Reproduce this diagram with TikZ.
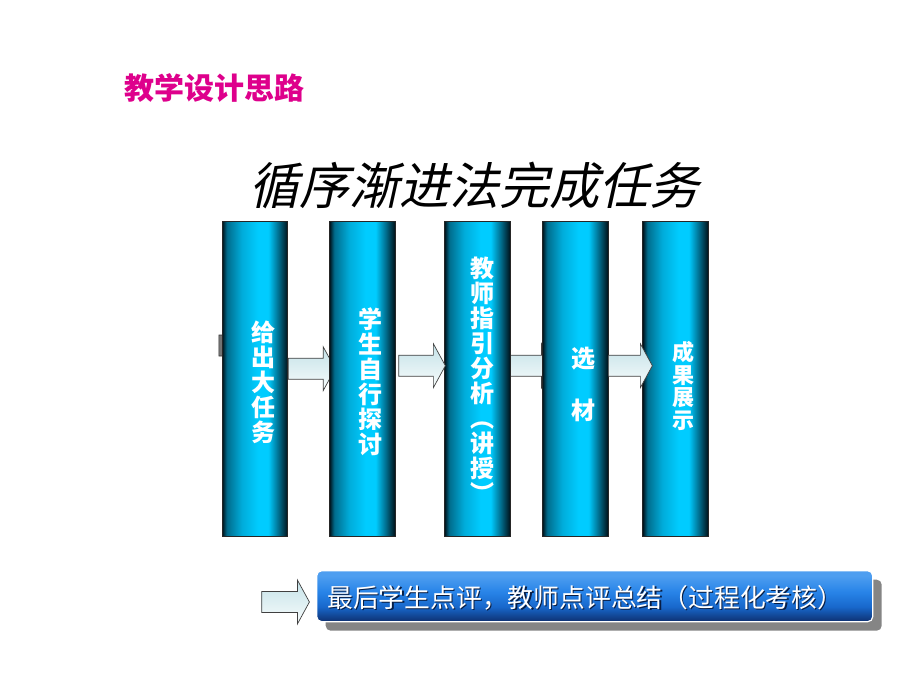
\documentclass[tikz,border=0pt]{standalone}
\usepackage{fontspec}
\usepackage{xcolor}
\usepackage{tikz}
\usetikzlibrary{calc,backgrounds,shadows}

\newfontfamily\cjk{Noto Sans CJK SC}
\newfontfamily\cjkslant[FakeSlant=0.22]{Noto Sans CJK SC}

\definecolor{titlemag}{RGB}{222,0,140}
\definecolor{coldark}{RGB}{0,18,26}
\definecolor{colmid}{RGB}{0,108,140}
\definecolor{colsoft}{RGB}{0,172,218}
\definecolor{colbright}{RGB}{0,204,255}
\definecolor{arrowhigh}{RGB}{196,226,232}
\definecolor{arrowlow}{RGB}{248,252,252}
\definecolor{boxtop}{RGB}{78,158,240}
\definecolor{boxbright}{RGB}{40,132,232}
\definecolor{boxmid}{RGB}{24,104,204}
\definecolor{boxdark}{RGB}{14,48,112}

% shadings at their real size
\pgfdeclarehorizontalshading{columnshade}{315pt}{color(0pt)=(coldark); color(4.6pt)=(colmid);
  color(19.6pt)=(colsoft); color(36pt)=(colbright); color(46pt)=(colbright);
  color(56.3pt)=(colmid); color(65.5pt)=(coldark)}
\pgfdeclareverticalshading{arrowshade}{100bp}{color(0bp)=(arrowlow); color(25bp)=(arrowlow);
  color(75bp)=(arrowhigh); color(100bp)=(arrowhigh)}
\pgfdeclareverticalshading{boxshade}{556pt}{color(0pt)=(boxdark); color(15pt)=(boxmid);
  color(30pt)=(boxbright); color(46pt)=(boxtop); color(51pt)=(boxtop)}

\tikzset{
  column/.style={draw=black!85,
    line width=0.8pt,
    minimum width=65.5pt,
    minimum height=315pt,
    inner sep=0pt,
    path picture={\node [inner sep=0pt] at (path picture bounding box.center) {\pgfuseshading{columnshade}};}},
  coltext/.style={text=white,
    font=\cjk\bfseries\fontsize{24}{25}\selectfont,
    align=center,
    inner sep=0pt},
  blockarrow/.style={draw=black!75,
    line width=0.7pt,
    shading=arrowshade,
    line join=miter},
  hiddenarrow/.style={draw=black!80,
    line width=0.7pt,
    fill=black!55},
  resultbox/.style={draw=white,
    line width=1.2pt,
    rounded corners=5pt,
    minimum width=556pt,
    minimum height=51pt,
    inner sep=0pt,
    path picture={\node [inner sep=0pt] at (path picture bounding box.center) {\pgfuseshading{boxshade}};},
    drop shadow={shadow xshift=9pt, shadow yshift=-9pt, fill=black!48, opacity=1}},
  restext/.style={anchor=west,
    font=\cjk\fontsize{25.8}{26}\selectfont,
    inner sep=0pt}
}

% block arrow from tail #2 to tip #3
\newcommand{\flowarrow}[3][blockarrow]{%
  \draw[#1] ($(#2)+(0pt,10.5pt)$) -- ($(#3)+(-12pt,10.5pt)$) -- ($(#3)+(-12pt,22pt)$)
    -- (#3) -- ($(#3)+(-12pt,-22pt)$) -- ($(#3)+(-12pt,-10.5pt)$)
    -- ($(#2)+(0pt,-10.5pt)$) -- cycle;}

\begin{document}
\begin{tikzpicture}[x=1pt,y=-1pt]
    \useasboundingbox (0,0) rectangle (920,690);
    % Headings
    \node [text=titlemag,
        font=\cjk\bfseries\fontsize{30}{30}\selectfont] (head) at (214,88) {教学设计思路};
    \node [font=\cjkslant\fontsize{50}{50}\selectfont] (motto) at (474,185) {循序渐进法完成任务};
    % Columns
    \node [column] (c1) at (255,379.2) {};
    \node [column] (c2) at (362.3,379.2) {};
    \node [column] (c3) at (477.3,379.2) {};
    \node [column] (c4) at (575.2,379.2) {};
    \node [column] (c5) at (675.5,379.2) {};
    % Column labels
    \node [coltext] (t1) at (263,382.5) {给\\出\\大\\任\\务};
    \node [coltext] (t2) at (370,382) {学\\生\\自\\行\\探\\讨};
    \node [coltext] (t3) at (482,380) {教\\师\\指\\引\\分\\析\\︵\\讲\\授\\︶};
    \node [coltext,
        font=\cjk\bfseries\fontsize{24}{26}\selectfont] (t4) at (583,384) {选\\\mbox{}\\材};
    \node [coltext,
        font=\cjk\bfseries\fontsize{22}{22.5}\selectfont] (t5) at (683,386) {成\\果\\展\\示};
    % Arrow ends
    \coordinate (a0s) at ([xshift=-3pt,yshift=33.7pt]c1.west);
    \coordinate (a0e) at ([xshift=40pt,yshift=33.7pt]c1.west);
    \coordinate (a1s) at ([yshift=10.5pt]c1.east);
    \coordinate (a1e) at ([xshift=6pt,yshift=10.5pt]c2.west);
    \coordinate (a2s) at ([xshift=3.3pt,yshift=13.5pt]c2.east);
    \coordinate (a2e) at ([xshift=1.2pt,yshift=13.5pt]c3.west);
    \coordinate (a3s) at ([yshift=13.5pt]c3.east);
    \coordinate (a3e) at ([xshift=11.5pt,yshift=13.5pt]c4.west);
    \coordinate (a4s) at ([yshift=13.5pt]c4.east);
    \coordinate (a4e) at ([xshift=10pt,yshift=13.5pt]c5.west);
    % Arrows behind the columns
    \begin{scope}[on background layer]
        \fill [white] (0,0) rectangle (920,690);
        \flowarrow[hiddenarrow]{a0s}{a0e}
        \flowarrow{a1s}{a1e}
        \flowarrow{a3s}{a3e}
    \end{scope}
    % Arrows in front
    \flowarrow{a2s}{a2e}
    \flowarrow{a4s}{a4e}
    % Summary box
    \node [resultbox] (res) at (594.7,596.2) {};
    \node [restext, text=boxdark!60!black] at ($(res.west)+(12.2pt,-3pt)$) {最后学生点评，教师点评总结（过程化考核）};
    \node [restext, text=white] (rtext) at ($(res.west)+(11pt,-1.8pt)$) {最后学生点评，教师点评总结（过程化考核）};
    \coordinate (a5s) at (261.7,602);
    \coordinate (a5e) at ([xshift=-6.7pt,yshift=-5.8pt]res.west);
    \flowarrow{a5s}{a5e}
\end{tikzpicture}
\end{document}
